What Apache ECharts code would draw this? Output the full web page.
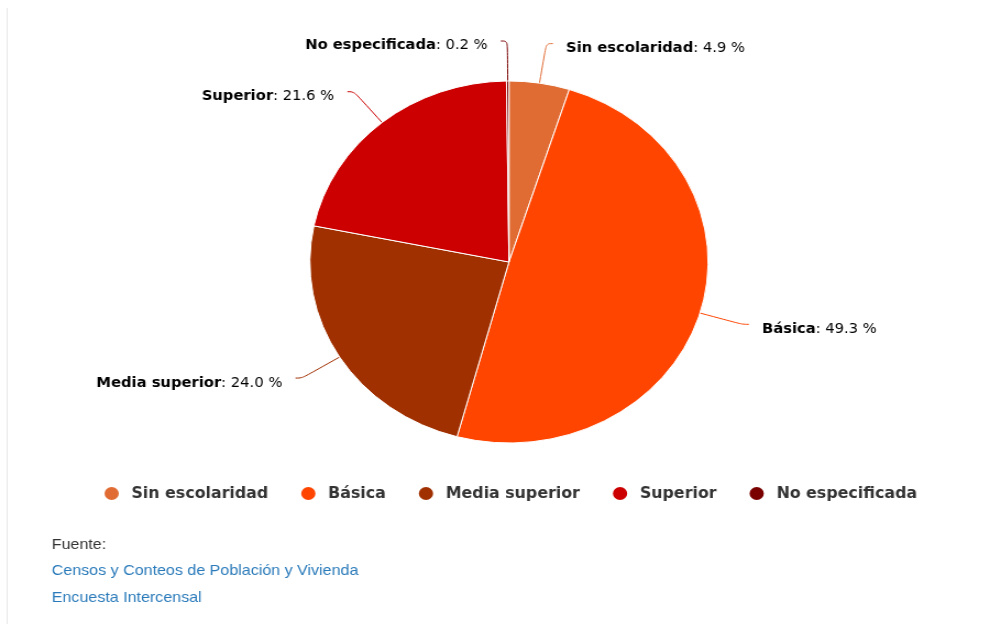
<!DOCTYPE html>
<html>
<head>
<meta charset="utf-8">
<script src="https://cdn.jsdelivr.net/npm/echarts@6/dist/echarts.min.js"></script>
<style>
  html, body { margin: 0; padding: 0; background: #fff; overflow: hidden; }
  #wrap { width: 999px; height: 624px; overflow: hidden; }
  #chart { width: 908px; height: 624px; transform: scaleX(1.1); transform-origin: 0 0; }
</style>
</head>
<body>
<div id="wrap"><div id="chart"></div></div>
<script>
const categories = ['Sin escolaridad', 'Básica', 'Media superior', 'Superior', 'No especificada'];
const values = [4.9, 49.3, 24.0, 21.6, 0.2];
const colors = ['#E06C34', '#FF4500', '#A03000', '#CC0000', '#7A0000'];
const sourceTitle = 'Fuente:';
const sourceLinks = ['Censos y Conteos de Población y Vivienda', 'Encuesta Intercensal'];

const chart = echarts.init(document.getElementById('chart'), null, { renderer: 'canvas' });

const option = {
  animation: false,
  color: colors,
  legend: {
    orient: 'horizontal',
    left: 88,
    top: 480,
    icon: 'circle',
    itemWidth: 26,
    itemHeight: 15,
    itemGap: 28,
    data: categories,
    textStyle: {
      fontFamily: '"DejaVu Sans Condensed", "DejaVu Sans", sans-serif',
      fontWeight: 'bold',
      fontSize: 16,
      color: '#333333'
    }
  },
  graphic: [
    {
      type: 'line',
      shape: { x1: 6.5, y1: 8, x2: 6.5, y2: 624 },
      style: { stroke: '#e6e6e6', lineWidth: 1 }
    },
    {
      type: 'text', left: 47, top: 537,
      style: { text: sourceTitle, font: '14.6px "Liberation Sans", Arial, sans-serif', fill: '#333333' }
    },
    {
      type: 'text', left: 47, top: 563,
      style: { text: sourceLinks[0], font: '14.6px "Liberation Sans", Arial, sans-serif', fill: '#2B7BBA' }
    },
    {
      type: 'text', left: 47, top: 590,
      style: { text: sourceLinks[1], font: '14.6px "Liberation Sans", Arial, sans-serif', fill: '#2B7BBA' }
    }
  ],
  series: [{
    type: 'pie',
    center: [462.7, 262],
    radius: 181,
    startAngle: 90,
    clockwise: true,
    avoidLabelOverlap: false,
    itemStyle: { borderColor: '#ffffff', borderWidth: 1 },
    emphasis: { disabled: true },
    label: {
      show: true,
      position: 'outside',
      alignTo: 'none',
      distanceToLabelLine: 12,
      padding: [10, 0, 0, 0],
      formatter: function (p) {
        return '{b|' + p.name + '}{n|: ' + p.value.toFixed(1) + ' %}';
      },
      rich: {
        b: { fontFamily: '"DejaVu Sans", sans-serif', fontWeight: 'bold', fontSize: 13.4, color: '#000000' },
        n: { fontFamily: '"DejaVu Sans", sans-serif', fontWeight: 'normal', fontSize: 13.4, color: '#000000' }
      }
    },
    labelLine: {
      show: true,
      length: 40,
      length2: 6,
      smooth: 0.4,
      lineStyle: { width: 1 }
    },
    data: categories.map((c, i) => ({ name: c, value: values[i] }))
  }]
};

chart.setOption(option);
</script>
</body>
</html>
